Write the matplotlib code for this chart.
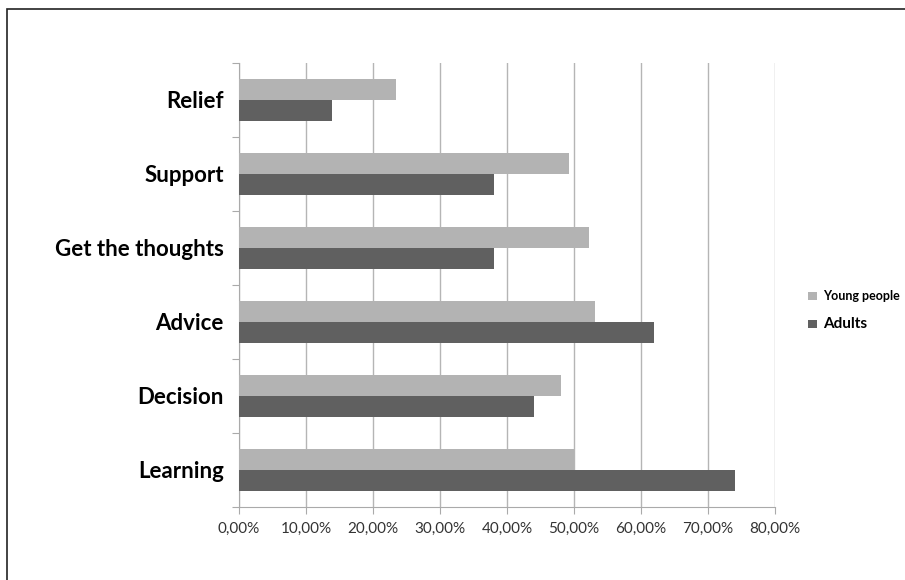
import matplotlib.pyplot as plt
import numpy as np
from matplotlib.patches import Rectangle
from matplotlib.ticker import FuncFormatter

categories = ["Relief", "Support", "Get the thoughts", "Advice", "Decision", "Learning"]
young = [23.4, 49.3, 52.3, 53.1, 48.1, 50.0]
adults = [13.95, 38.0, 38.0, 62.0, 44.0, 74.0]
series_names = ["Young people", "Adults"]
xticks = [0, 10, 20, 30, 40, 50, 60, 70, 80]

plt.rcParams['font.family'] = ['Lato', 'DejaVu Sans']

fig = plt.figure(figsize=(9.05, 5.8), dpi=100)
ax = fig.add_axes([239 / 905, 1 - 507 / 580, (775 - 239) / 905, (507 - 63) / 580])

# frame around the chart area (only left/top visible)
fig.patches.append(Rectangle((7 / 905, -0.05), 1.1, 1 - 9 / 580 + 0.05,
                             transform=fig.transFigure, fill=False,
                             edgecolor='#222222', linewidth=1.2))

y = np.arange(len(categories))
h = 0.285
ax.barh(y - h / 2, young, height=h, color='#b3b3b3', label=series_names[0], zorder=3)
ax.barh(y + h / 2, adults, height=h, color='#606060', label=series_names[1], zorder=3)

ax.set_ylim(len(categories) - 0.5, -0.5)
ax.set_xlim(0, 80)
ax.set_xticks(xticks)
ax.xaxis.set_major_formatter(FuncFormatter(lambda v, p: f"{v:.2f}%".replace('.', ',')))
ax.grid(axis='x', color='#b5b5b5', linewidth=1, zorder=0)

ax.set_yticks(np.arange(-0.5, len(categories), 1))
ax.set_yticklabels([])
ax.set_yticks(y, minor=True)
ax.set_yticklabels(categories, minor=True, fontsize=16, fontweight='bold', color='black')
ax.tick_params(axis='y', which='minor', length=0, pad=11)
ax.tick_params(axis='y', which='major', length=5, color='#aaaaaa', direction='out')
ax.tick_params(axis='x', length=5, color='#aaaaaa', labelsize=11, labelcolor='#333333', pad=6)

for s in ['top', 'right']:
    ax.spines[s].set_visible(False)
for s in ['left', 'bottom']:
    ax.spines[s].set_color('#aaaaaa')

leg = fig.legend(loc='upper left', bbox_to_anchor=(797 / 905, 1 - 279 / 580),
                 frameon=False, handlelength=0.7, handleheight=0.7,
                 handletextpad=0.5, labelspacing=1.2, fontsize=9)
for t in leg.get_texts():
    t.set_fontweight('bold')
leg.get_texts()[1].set_fontsize(11)

fig.savefig('out.png', dpi=100)
